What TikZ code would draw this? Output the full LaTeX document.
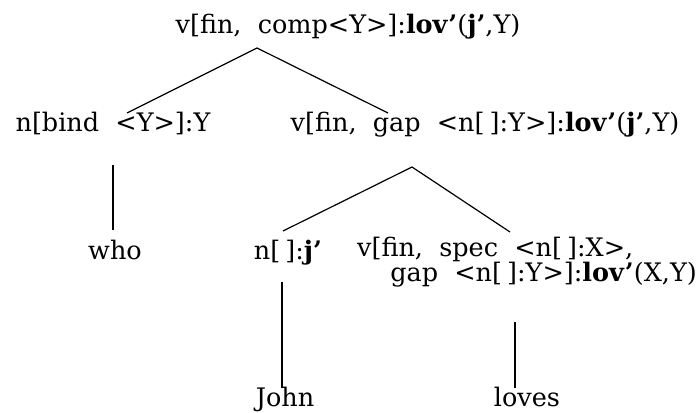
\documentclass[tikz,border=0pt]{standalone}
\usepackage{fontspec}
\setmainfont{DejaVu Serif}[WordSpace=2]
\newcommand{\emptybr}{[\hspace{0.2em}]}
\begin{document}
\begin{tikzpicture}[x=1pt,y=-1pt,
  label/.style={inner sep=0pt, anchor=base, font=\fontsize{25.5}{29}\selectfont},
  branch/.style={line width=1.2pt}]
\useasboundingbox (0,0) rectangle (700,412);
% category labels, placed by their centres
\node[label] (root)  at (348,34)  {v[fin, comp<Y>]:\textbf{lov'}(\textbf{j'},Y)};
\node[label] (nbind) at (113,131) {n[bind <Y>]:Y};
\node[label] (vgap)  at (485,131) {v[fin, gap <n\emptybr:Y>]:\textbf{lov'}(\textbf{j'},Y)};
\node[label] (who)   at (115,259) {who};
\node[label] (nj)    at (288,259) {n\emptybr:\textbf{j'}};
\node[label, anchor=base west] (vspec)  at (357,256) {v[fin, spec <n\emptybr:X>,};
\node[label, anchor=base east] (vspecb) at (697,281) {gap <n\emptybr:Y>]:\textbf{lov'}(X,Y)};
\node[label] (john)  at (285,406) {John};
\node[label] (loves) at (527,406) {loves};
% branch points
\coordinate (rootFoot)  at (257,48);
\coordinate (nbindHead) at (127,113);
\coordinate (vgapHead)  at (388,113);
\coordinate (nbindFoot) at (113,165);
\coordinate (whoHead)   at (113,230);
\coordinate (vgapFoot)  at (412,167);
\coordinate (njHead)    at (283,231);
\coordinate (vspecHead) at (510,232);
\coordinate (njFoot)    at (282,282);
\coordinate (johnHead)  at (282,388);
\coordinate (vspecFoot) at (515,322);
\coordinate (lovesHead) at (515,388);
% branches
\draw[branch] (nbindHead) -- (rootFoot) -- (vgapHead);
\draw[branch] (nbindFoot) -- (whoHead);
\draw[branch] (njHead) -- (vgapFoot) -- (vspecHead);
\draw[branch] (njFoot) -- (johnHead);
\draw[branch] (vspecFoot) -- (lovesHead);
\end{tikzpicture}
\end{document}
